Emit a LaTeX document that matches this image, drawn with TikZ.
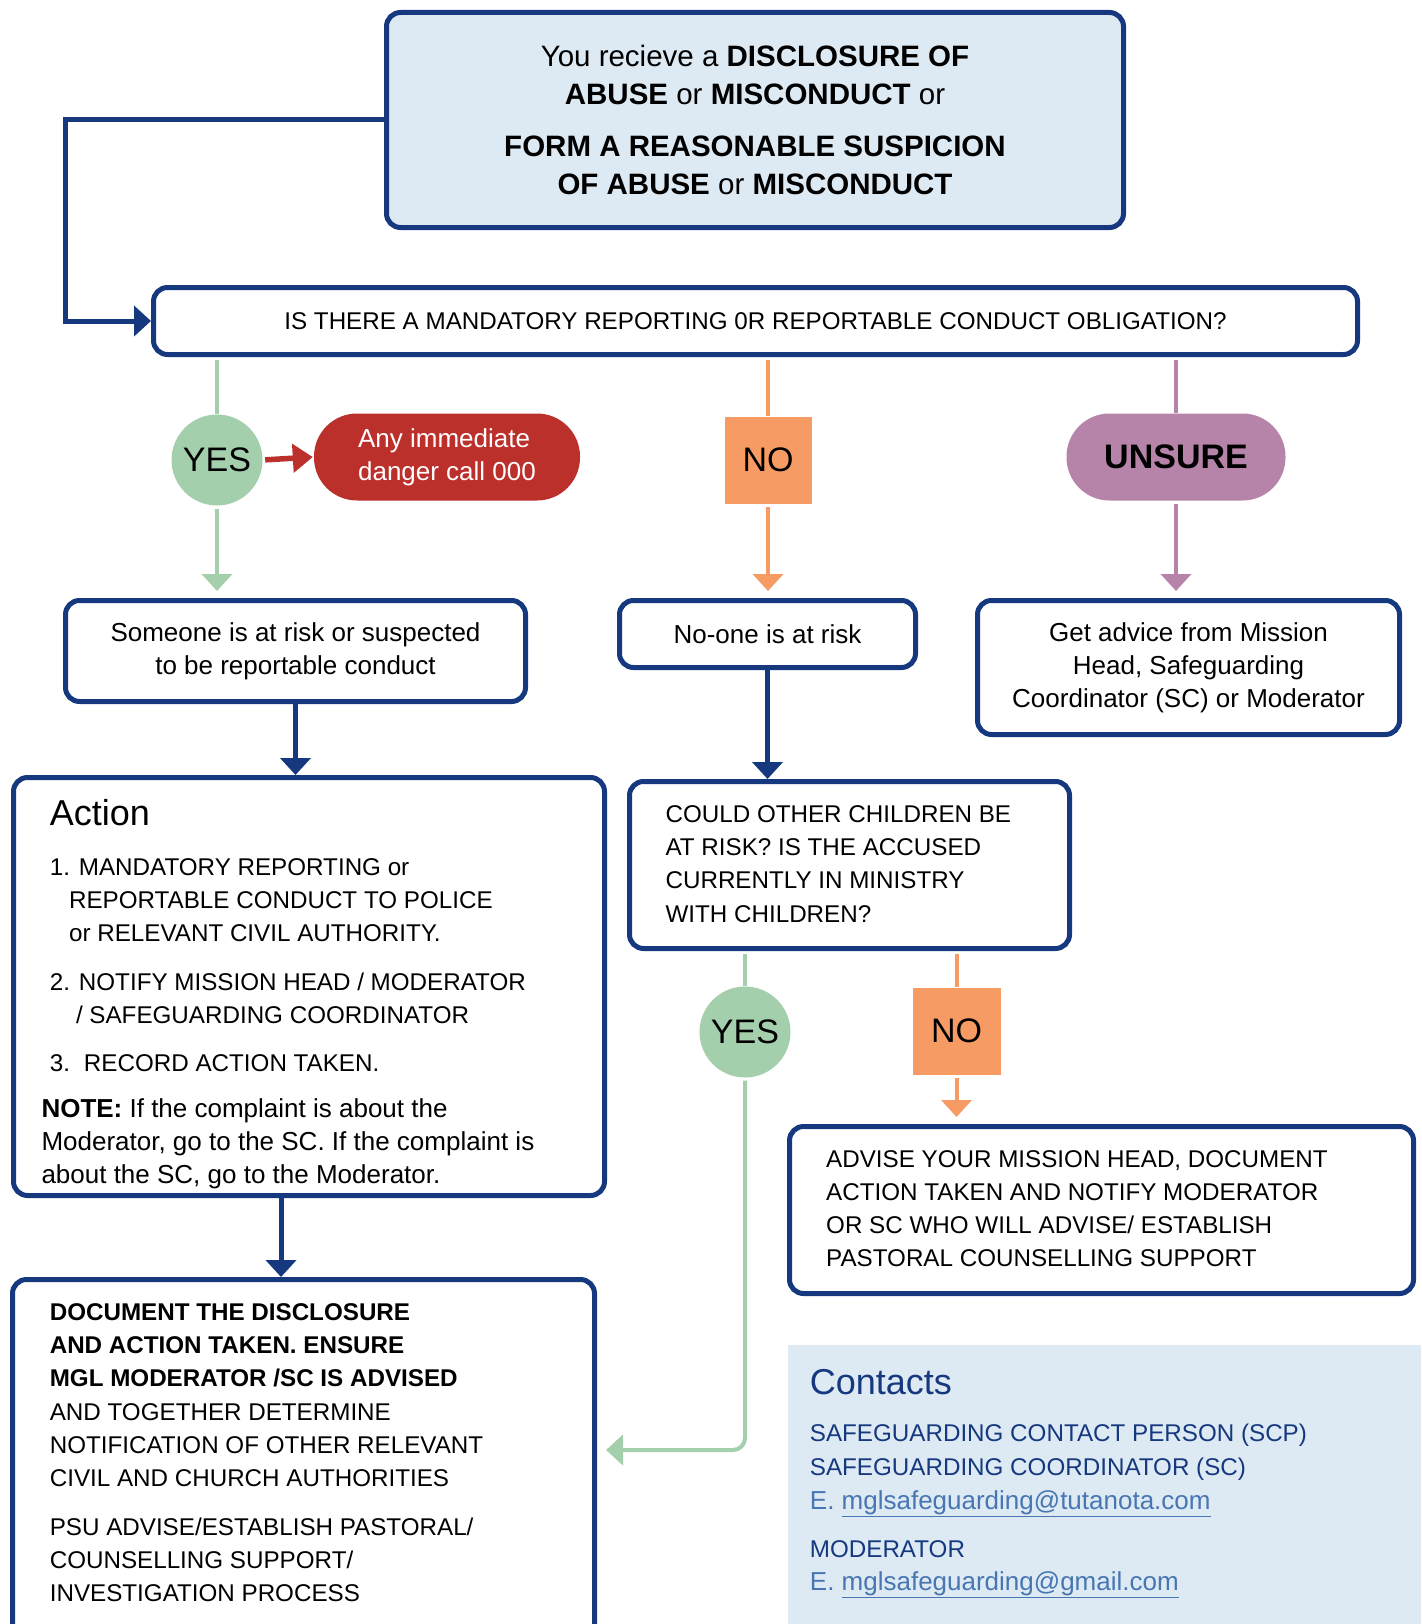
\documentclass[tikz,border=0pt]{standalone}
\usepackage{fontspec}
\setmainfont{Liberation Sans}
\usetikzlibrary{arrows.meta}
\definecolor{mglnavy}{RGB}{22,56,126}
\definecolor{paleblue}{RGB}{221,234,244}
\definecolor{yesgreen}{RGB}{164,207,172}
\definecolor{noorange}{RGB}{245,155,99}
\definecolor{unsurepurple}{RGB}{183,132,169}
\definecolor{dangerred}{RGB}{188,48,44}
\definecolor{linkblue}{RGB}{72,118,178}
\newcommand{\fbody}{\fontsize{26}{33}\selectfont}
\newcommand{\fcaps}{\fontsize{24.2}{33}\selectfont}
\newcommand{\ftop}{\fontsize{29.5}{38}\selectfont}
\newcommand{\fhead}{\fontsize{36}{40}\selectfont}
\newcommand{\fans}{\fontsize{34}{40}\selectfont}

\begin{document}
\begin{tikzpicture}[x=1pt,y=-1pt,
  >={Triangle[width=30pt,length=17pt]},
  box/.style={draw=mglnavy,line width=5pt,rounded corners=14pt,fill=white,inner sep=0pt},
  answer/.style={inner sep=0pt,font=\fans},
  txtline/.style={anchor=base west,inner sep=0pt},
  navyarrow/.style={draw=mglnavy,line width=5pt,->},
  yesline/.style={draw=yesgreen,line width=4pt},
  noline/.style={draw=noorange,line width=4pt},
  unsureline/.style={draw=unsurepurple,line width=4pt},
  redline/.style={draw=dangerred,line width=5.5pt,-{Triangle[width=28pt,length=20pt]}}]
\useasboundingbox (0,0) rectangle (1421,1624);
\clip (0,0) rectangle (1421,1624);

% top question
\node[box,fill=paleblue,minimum width=737pt,minimum height=215pt,font=\ftop,align=center] (disclosure) at (755,120)
  {You recieve a \textbf{DISCLOSURE OF}\\\textbf{ABUSE} or \textbf{MISCONDUCT} or\\[14pt]\textbf{FORM A REASONABLE SUSPICION}\\\textbf{OF ABUSE} or \textbf{MISCONDUCT}};
\node[box,minimum width=1204pt,minimum height=67pt,font=\fcaps] (obligation) at (755.5,321)
  {IS THERE A MANDATORY REPORTING 0R REPORTABLE CONDUCT OBLIGATION?};

% first answers
\node[answer,circle,fill=yesgreen,minimum size=91pt] (yes1) at (217,460) {YES};
\node[inner sep=0pt,rounded corners=43pt,fill=dangerred,minimum width=266pt,minimum height=87pt,
  text=white,font=\fbody,align=left] (danger) at (447,457) {Any immediate\\danger call 000};
\node[answer,fill=noorange,minimum width=87pt,minimum height=87pt] (no1) at (768,460) {NO};
\node[answer,rounded corners=43pt,fill=unsurepurple,minimum width=219pt,minimum height=87pt,
  font=\fans\bfseries] (unsure) at (1176,457) {UNSURE};

\node[box,minimum width=460pt,minimum height=101pt,font=\fbody,align=center] (atrisk) at (295.5,651)
  {Someone is at risk or suspected\\to be reportable conduct};
\node[box,minimum width=296pt,minimum height=67pt,font=\fbody] (norisk) at (767.5,634) {No-one is at risk};
\node[box,minimum width=422pt,minimum height=134pt,font=\fbody,align=center] (advice) at (1188.5,667.5)
  {Get advice from Mission\\Head, Safeguarding\\Coordinator (SC) or Moderator};

% lower boxes
\node[box,minimum width=591pt,minimum height=418pt] (action) at (309,986.5) {};
\node[box,minimum width=440pt,minimum height=167pt] (children) at (849.5,865) {};
\node[answer,circle,fill=yesgreen,minimum size=91pt] (yes2) at (745,1032) {YES};
\node[answer,fill=noorange,minimum width=88pt,minimum height=87pt] (no2) at (956.5,1031) {NO};
\node[box,minimum width=624pt,minimum height=167pt] (advise) at (1101.5,1210) {};
\node[box,minimum width=582pt,minimum height=420pt] (document) at (303.5,1489.5) {};
\fill[paleblue] (788,1345) rectangle (1421,1630);

% action text
\node[txtline,font=\fhead] (act0) at (49.6,825.7) {Action};
\node[txtline,font=\fcaps] (act1) at (49.6,875) {1. MANDATORY REPORTING or};
\node[txtline,font=\fcaps] (act2) at (68.9,908.3) {REPORTABLE CONDUCT TO POLICE};
\node[txtline,font=\fcaps] (act3) at (68.9,941) {or RELEVANT CIVIL AUTHORITY.};
\node[txtline,font=\fcaps] (act4) at (49.6,990) {2. NOTIFY MISSION HEAD / MODERATOR};
\node[txtline,font=\fcaps] (act5) at (75.8,1023.3) {/ SAFEGUARDING COORDINATOR};
\node[txtline,font=\fcaps] (act6) at (49.6,1071.7) {3.\hspace{14pt}RECORD ACTION TAKEN.};
\node[txtline,font=\fbody] (act7) at (41.3,1117.3) {\textbf{NOTE:} If the complaint is about the};
\node[txtline,font=\fbody] (act8) at (41.3,1150.7) {Moderator, go to the SC. If the complaint is};
\node[txtline,font=\fbody] (act9) at (41.3,1183.3) {about the SC, go to the Moderator.};

% children text
\node[txtline,font=\fcaps] (kid1) at (665.4,822.5) {COULD OTHER CHILDREN BE};
\node[txtline,font=\fcaps] (kid2) at (665.4,855.7) {AT RISK? IS THE ACCUSED};
\node[txtline,font=\fcaps] (kid3) at (665.4,888.9) {CURRENTLY IN MINISTRY};
\node[txtline,font=\fcaps] (kid4) at (665.4,922.2) {WITH CHILDREN?};

% advise text
\node[txtline,font=\fcaps] (adv1) at (826,1167) {ADVISE YOUR MISSION HEAD, DOCUMENT};
\node[txtline,font=\fcaps] (adv2) at (826,1200.2) {ACTION TAKEN AND NOTIFY MODERATOR};
\node[txtline,font=\fcaps] (adv3) at (826,1233.4) {OR SC WHO WILL ADVISE/ ESTABLISH};
\node[txtline,font=\fcaps] (adv4) at (826,1266.6) {PASTORAL COUNSELLING SUPPORT};

% document text
\node[txtline,font=\fcaps\bfseries] (doc1) at (49.6,1320) {DOCUMENT THE DISCLOSURE};
\node[txtline,font=\fcaps\bfseries] (doc2) at (49.6,1353.3) {AND ACTION TAKEN. ENSURE};
\node[txtline,font=\fcaps\bfseries] (doc3) at (49.6,1386.7) {MGL MODERATOR /SC IS ADVISED};
\node[txtline,font=\fcaps] (doc4) at (49.6,1420) {AND TOGETHER DETERMINE};
\node[txtline,font=\fcaps] (doc5) at (49.6,1453.3) {NOTIFICATION OF OTHER RELEVANT};
\node[txtline,font=\fcaps] (doc6) at (49.6,1486.7) {CIVIL AND CHURCH AUTHORITIES};
\node[txtline,font=\fcaps] (doc7) at (49.6,1535) {PSU ADVISE/ESTABLISH PASTORAL/};
\node[txtline,font=\fcaps] (doc8) at (49.6,1568.3) {COUNSELLING SUPPORT/};
\node[txtline,font=\fcaps] (doc9) at (49.6,1601.7) {INVESTIGATION PROCESS};

% contacts
\node[txtline,font=\fhead,text=mglnavy] (con0) at (809.7,1394) {Contacts};
\node[txtline,font=\fcaps,text=mglnavy] (con1) at (809.7,1441.7) {SAFEGUARDING CONTACT PERSON (SCP)};
\node[txtline,font=\fcaps,text=mglnavy] (con2) at (809.7,1475.7) {SAFEGUARDING COORDINATOR (SC)};
\node[txtline,font=\fbody,text=linkblue] (con3) at (809.7,1509.3) {E. \underline{mglsafeguarding@tutanota.com}};
\node[txtline,font=\fcaps,text=mglnavy] (con4) at (809.7,1557.3) {MODERATOR};
\node[txtline,font=\fbody,text=linkblue] (con5) at (809.7,1590.7) {E. \underline{mglsafeguarding@gmail.com}};

% connectors
\draw[navyarrow] (disclosure.west) -- ++(-319,0) |- (obligation.west);
\draw[yesline,shorten <=2.5pt] (obligation.south -| yes1) -- (yes1.north);
\draw[yesline,->,shorten <=3pt,shorten >=7pt] (yes1.south) -- (yes1.south |- atrisk.north);
\draw[redline,shorten <=2.5pt,shorten >=1pt] (yes1.east) -- (danger.west);
\draw[noline,shorten <=2.5pt] (obligation.south -| no1) -- (no1.north);
\draw[noline,->,shorten <=3pt,shorten >=7pt] (no1.south) -- (no1.south |- norisk.north);
\draw[unsureline,shorten <=2.5pt] (obligation.south -| unsure) -- (unsure.north);
\draw[unsureline,->,shorten <=3pt,shorten >=7pt] (unsure.south) -- (unsure.south |- advice.north);
\draw[navyarrow] (atrisk.south) -- (atrisk.south |- action.north);
\draw[navyarrow] (norisk.south) -- (norisk.south |- children.north);
\coordinate (actout) at ([xshift=-28pt]action.south);
\draw[navyarrow] (actout) -- (actout |- document.north);
\draw[yesline,shorten <=2.5pt] (children.south -| yes2) -- (yes2.north);
\coordinate (docin) at ([yshift=39.5pt]document.east);
\draw[yesline,->,rounded corners=12pt,shorten <=3pt,shorten >=9pt] (yes2.south) |- (docin);
\draw[noline,shorten <=2.5pt] (children.south -| no2) -- (no2.north);
\draw[noline,->,shorten <=3pt,shorten >=7pt] (no2.south) -- (no2.south |- advise.north);
\end{tikzpicture}
\end{document}
